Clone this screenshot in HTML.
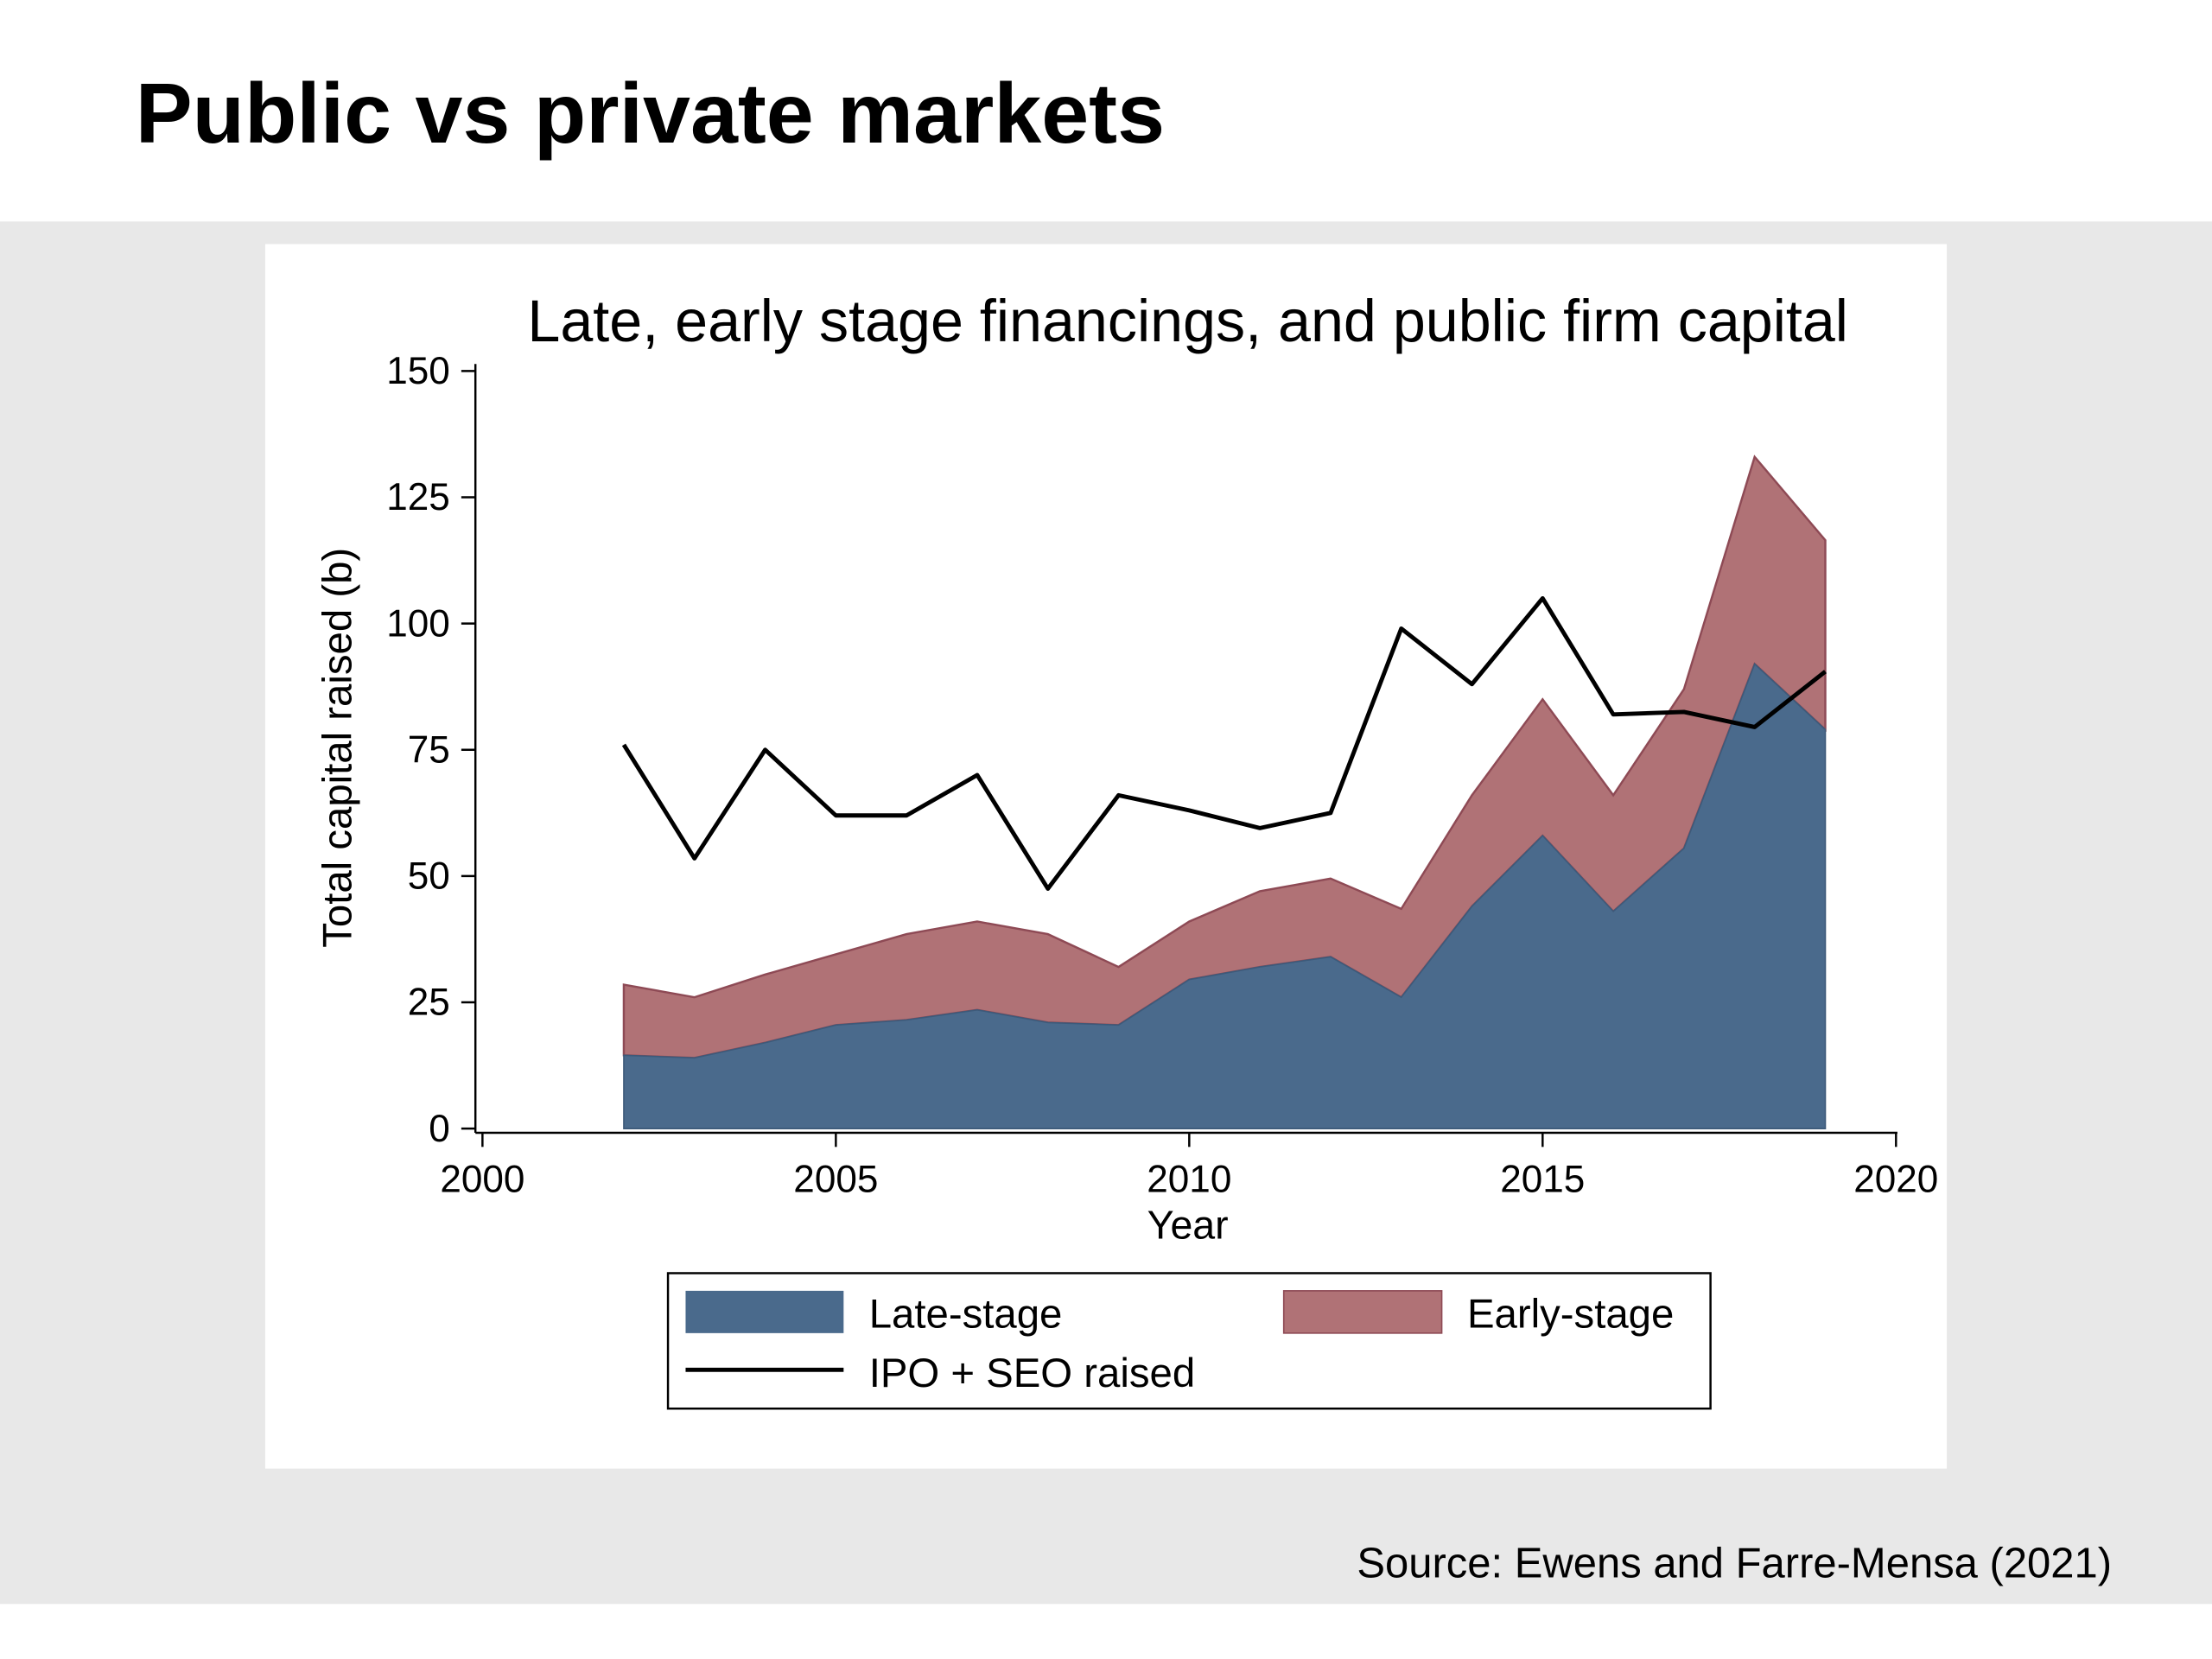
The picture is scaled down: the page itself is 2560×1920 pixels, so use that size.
<!DOCTYPE html>
<html><head><meta charset="utf-8"><style>
html,body{margin:0;padding:0;background:#fff}
svg{display:block}
text{font-family:"Liberation Sans",Arial,sans-serif}
</style></head><body>
<svg id="c" width="2560" height="1920" viewBox="0 0 1568 1176" xmlns="http://www.w3.org/2000/svg">
<rect x="0" y="0" width="1568" height="1176" fill="#fff"/>
<rect x="0" y="157" width="1568" height="980" fill="#e8e8e8"/>
<text x="96" y="101" font-size="60.5" font-weight="bold" fill="#000">Public vs private markets</text>
<rect x="188" y="173" width="1192" height="868" fill="#fff"/>
<text x="842" y="242" font-size="41.8" text-anchor="middle" fill="#000">Late, early stage financings, and public firm capital</text>
<g id="plot"></g>
<line x1="337" y1="258" x2="337" y2="803" stroke="#000" stroke-width="1.5"/>
<line x1="337" y1="803" x2="1345" y2="803" stroke="#000" stroke-width="1.5"/>
<g id="yt"></g><g id="xt"></g>
<text x="842" y="878" font-size="28.5" text-anchor="middle">Year</text>
<text transform="translate(249,530) rotate(-90)" font-size="29" text-anchor="middle">Total capital raised (b)</text>
<g>
<rect x="473.5" y="902.5" width="739" height="96" fill="#fff" stroke="#000" stroke-width="1.5"/>
<rect x="486" y="915" width="112" height="30" fill="#4a6a8c"/>
<text x="616" y="941" font-size="29">Late-stage</text>
<rect x="910" y="915" width="112" height="30" fill="#b07276" stroke="#8e4a55"/>
<text x="1040" y="941" font-size="29">Early-stage</text>
<line x1="486" y1="971" x2="598" y2="971" stroke="#000" stroke-width="3"/>
<text x="616" y="983" font-size="29">IPO + SEO raised</text>
</g>
<text x="1497" y="1118" font-size="30" text-anchor="end">Source: Ewens and Farre-Mensa (2021)</text>
</svg>
<script>
const years=[2002,2003,2004,2005,2006,2007,2008,2009,2010,2011,2012,2013,2014,2015,2016,2017,2018,2019];
const lateStage=[14.5,14,17,20.5,21.5,23.5,21,20.5,29.5,32,34,26,44,58,43,55.5,92,79];
const earlyStage=[14,12,13.5,14,17,17.5,17.5,11.5,11.5,15,15.5,17.5,22,27,23,31.5,41,37.5];
const ipoSeo=[76,53.5,75,62,62,70,47.5,66,63,59.5,62.5,99,88,105,82,82.5,79.5,90.5];
const yTicks=[0,25,50,75,100,125,150];
const xTicks=[2000,2005,2010,2015,2020];
const NS="http://www.w3.org/2000/svg";
const X=v=>342+(v-2000)*50.1;
const Y=v=>800-v*3.58;
const plot=document.getElementById('plot');
function mk(tag,attrs,parent){const e=document.createElementNS(NS,tag);for(const k in attrs)e.setAttribute(k,attrs[k]);parent.appendChild(e);return e;}
const tot=lateStage.map((v,i)=>v+earlyStage[i]);
const topPts=years.map((y,i)=>X(y)+','+Y(tot[i])).join(' ');
const latPts=years.map((y,i)=>X(y)+','+Y(lateStage[i]));
let e=mk('polygon',{points:topPts+' '+latPts.slice().reverse().join(' '),fill:'#b07276',stroke:'#8e4a55','stroke-width':1.5},plot);


e=mk('polygon',{points:latPts.join(' ')+' '+X(2019)+','+Y(0)+' '+X(2002)+','+Y(0),fill:'#4a6a8c',stroke:'#3d5a7a','stroke-width':1},plot);


e=mk('polyline',{points:years.map((y,i)=>X(y)+','+Y(ipoSeo[i])).join(' '),fill:'none',stroke:'#000','stroke-width':3,'stroke-linejoin':'round'},plot);


const yt=document.getElementById('yt');
yTicks.forEach(t=>{
 let l=mk('line',{x1:327,x2:337,y1:Y(t),y2:Y(t),stroke:'#000','stroke-width':1.5},yt);
 
 
 let tx=mk('text',{x:319,y:Y(t)+9,'font-size':27,'text-anchor':'end'},yt);tx.textContent=t;
 
 
});
const xt=document.getElementById('xt');
xTicks.forEach(t=>{
 let l=mk('line',{x1:X(t),x2:X(t),y1:803,y2:813,stroke:'#000','stroke-width':1.5},xt);
 
 
 let tx=mk('text',{x:X(t),y:845,'font-size':27,'text-anchor':'middle'},xt);tx.textContent=t;
 
 
});
</script>
</body></html>
